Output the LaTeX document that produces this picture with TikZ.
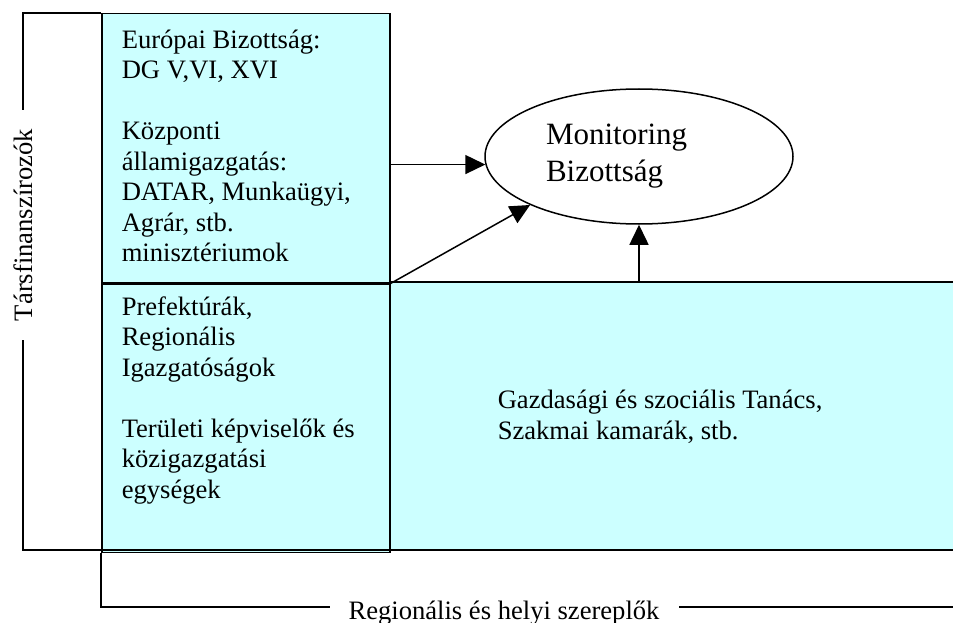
\documentclass[tikz,border=0pt]{standalone}
\usepackage{fontspec}
\setmainfont{Liberation Serif}
\usepackage{tikz}
\usetikzlibrary{shapes.geometric,arrows.meta,positioning,calc}
\definecolor{panelcyan}{HTML}{CCFFFF}

\begin{document}
\begin{tikzpicture}[x=1pt, y=1pt, line width=1.5pt,
    panel/.style={rectangle, draw, fill=panelcyan, inner sep=0pt, anchor=north west},
    paneltext/.style={anchor=base west, align=left, inner sep=0pt, font=\fontsize{26.6}{30.5}\selectfont},
    oval/.style={ellipse, draw, fill=white, minimum width=308, minimum height=135, text width=186, align=left, inner sep=0pt, font=\fontsize{31}{37}\selectfont},
    axis/.style={fill=white, inner xsep=19, inner ysep=2, font=\fontsize{26.6}{30}\selectfont},
    line/.style={draw, -{Triangle[length=20pt, width=19pt]}}]
    \useasboundingbox (0,0) rectangle (953,-623);

    % Panels - right one first, so the left edge stays on top
    \node [panel, draw=none, minimum width=564, minimum height=268] (gazd) at (389,-282) {};
    \node [panel, minimum width=288, minimum height=269] (eu) at (101,-13) {};
    \node [panel, minimum width=288, minimum height=268] (pref) at (eu.south west) {};
    \draw (gazd.north west) -- (gazd.north east);

    % Panel texts (placed by the baseline of their last line)
    \node [paneltext] (eutext) at (121,-261.5) {Európai Bizottság:\\DG V,VI, XVI\\[30.5pt]Központi\\államigazgatás:\\DATAR, Munkaügyi,\\Agrár, stb.\\minisztériumok};
    \node [paneltext] (preftext) at (121,-498) {Prefektúrák,\\Regionális\\Igazgatóságok\\[30.5pt]Területi képviselők és\\közigazgatási\\egységek};
    \node [paneltext] (gazdtext) at (497,-439) {Gazdasági és szociális Tanács,\\Szakmai kamarák, stb.};

    % Monitoring committee
    \node [oval] (mb) at (639,-156.5) {Monitoring\\Bizottság};

    % Axes
    \coordinate (lt) at (23,-13);
    \coordinate (lb) at (23,-550);
    \coordinate (rb) at (953,-550);
    \coordinate (bl) at (101,-607);
    \coordinate (br) at (953,-607);
    \draw (eu.north west) -- (lt) -- (lb) -- (rb);
    \draw (pref.south west) -- (bl) -- (br);
    \node [axis, rotate=90] (cofin) at (23,-225) {Társfinanszírozók};
    \node [axis, anchor=base] (actors) at (504,-619) {Regionális és helyi szereplők};

    % Flow connections
    \path [line] (eu.east |- mb.183.6) -- (mb.183.6);
    \path [line] (eu.south east) -- (mb.204);
    \path [line] (mb.south |- gazd.north) -- (mb.south);
\end{tikzpicture}
\end{document}
